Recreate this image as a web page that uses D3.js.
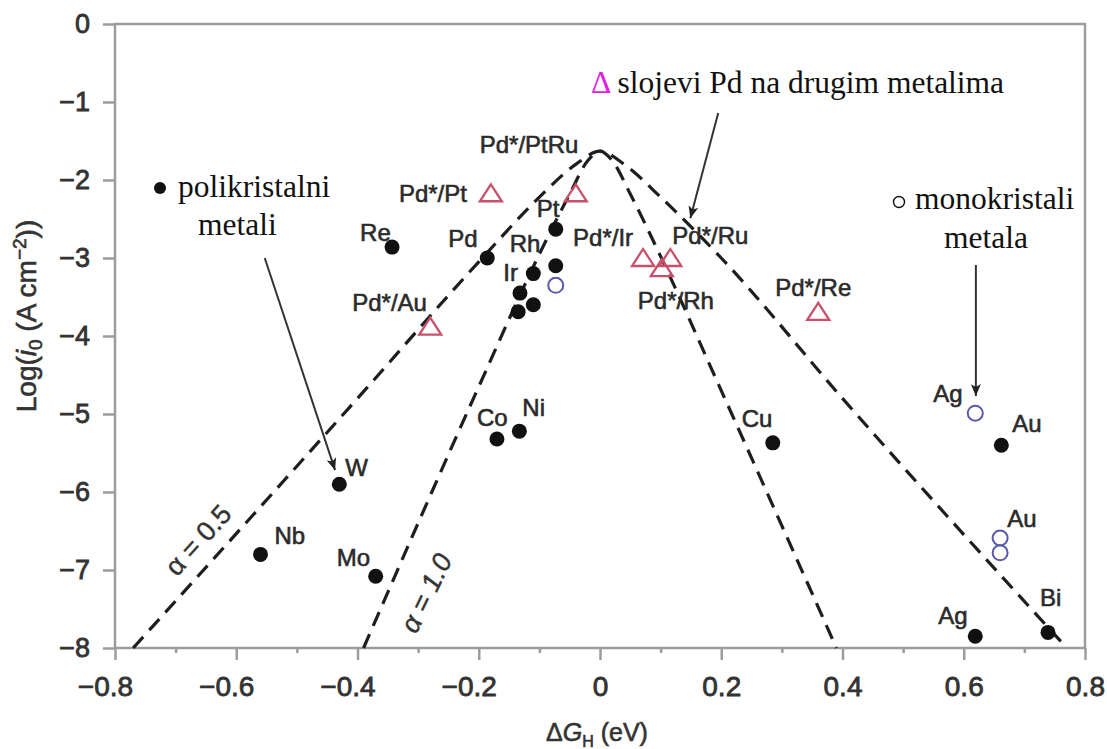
<!DOCTYPE html>
<html>
<head>
<meta charset="utf-8">
<script src="https://cdn.jsdelivr.net/npm/d3@7"></script>
<style>
  body { margin: 0; background: #fff; }
  svg { display: block; }
</style>
</head>
<body>
<div id="grafico"></div>
<script>
// ---------- DATOS ----------
// polikristalni metali (puni krugovi)
var polyNames = ['Re', 'Pd', 'Pt', 'Rh', 'Ir', '', '', '', 'Co', 'Ni', 'Cu', 'W', 'Nb', 'Mo', 'Au', 'Ag', 'Bi'];
var polyDG    = [-0.343, -0.186, -0.073, -0.073, -0.110, -0.132, -0.110, -0.135, -0.170, -0.133, 0.285, -0.430, -0.560, -0.370, 0.662, 0.619, 0.739];
var polyLogI0 = [-2.86, -3.00, -2.63, -3.10, -3.20, -3.45, -3.60, -3.69, -5.32, -5.22, -5.37, -5.90, -6.80, -7.08, -5.40, -7.85, -7.80];

// monokristali metala (prazni krugovi)
var monoNames = ['', 'Ag', 'Au', ''];
var monoDG    = [-0.073, 0.619, 0.660, 0.660];
var monoLogI0 = [-3.35, -4.99, -6.59, -6.78];

// slojevi Pd na drugim metalima (trokuti)
var pdNames = ['Pd*/Pt', 'Pd*/PtRu', 'Pd*/Au', 'Pd*/Ir', 'Pd*/Rh', 'Pd*/Ru', 'Pd*/Re'];
var pdDG    = [-0.180, -0.040, -0.280, 0.071, 0.102, 0.116, 0.360];
var pdLogI0 = [-2.17, -2.17, -3.88, -3.00, -3.13, -3.00, -3.69];

// krivulje vulkana (ocitane sa slike)
var alpha05DG = [-0.77, -0.40, -0.20, -0.10, -0.04, 0, 0.04, 0.10, 0.20, 0.40, 0.77];
var alpha05Y  = [-8.00, -4.80, -3.05, -2.22, -1.80, -1.63, -1.80, -2.22, -3.00, -4.80, -8.00];
var alpha10DG = [-0.39, -0.20, -0.10, -0.05, -0.02, 0, 0.02, 0.05, 0.10, 0.20, 0.39];
var alpha10Y  = [-8.00, -4.65, -2.95, -2.18, -1.75, -1.63, -1.75, -2.18, -2.98, -4.70, -8.00];

// osi
var xTicks = [-0.8, -0.6, -0.4, -0.2, 0, 0.2, 0.4, 0.6, 0.8];
var xMinor = [-0.7, -0.5, -0.3, -0.1, 0.1, 0.3, 0.5, 0.7];
var yTicks = [0, -1, -2, -3, -4, -5, -6, -7, -8];

// ---------- RASPORED NATPISA (px pomaci od tocke) ----------
var polyLabelOff = [[-32, -6], [-39, -11], [-19, -12], [-46, -14], [-30, 7], [0, 0], [0, 0], [0, 0],
                    [-20, -13], [3, -15], [-31, -16], [6, -8], [14, -10], [-39, -10], [11, -13], [-37, -12], [-8, -26]];
var monoLabelOff = [[0, 0], [-42, -11], [7, -11], [0, 0]];
var pdLabelOff   = [[-92, 9], [-96, -40], [-78, -16], [-70, -12], [-24, 41], [2, -14], [-43, -16]];

var W = 1107, H = 749;
var sans = '"Liberation Sans", Arial, Helvetica, sans-serif';
var serif = '"Liberation Serif", "Times New Roman", serif';

var svg = d3.select('#grafico').append('svg')
    .attr('width', W)
    .attr('height', H);

svg.append('rect').attr('width', W).attr('height', H).attr('fill', '#fff');

// ---------ESCALAS------------
var x = d3.scaleLinear().domain([-0.8, 0.8]).range([115, 1085]);
var y = d3.scaleLinear().domain([-8, 0]).range([648, 24]);

var axisColor = '#9c9c9c';

// okvir
svg.append('rect')
    .attr('x', x(-0.8)).attr('y', y(0))
    .attr('width', x(0.8) - x(-0.8)).attr('height', y(-8) - y(0))
    .attr('fill', 'none')
    .attr('stroke', axisColor)
    .attr('stroke-width', 2.5);

// EJE Y
var gy = svg.append('g')
    .attr('transform', 'translate(' + x(-0.8) + ',0)')
    .call(d3.axisLeft(y).tickValues(yTicks).tickSize(12).tickPadding(13));
gy.select('.domain').remove();
gy.selectAll('.tick line').attr('stroke', axisColor).attr('stroke-width', 2.5);
gy.selectAll('.tick text')
    .attr('font-family', sans).attr('font-size', 27)
    .attr('fill', '#333').attr('stroke', '#333').attr('stroke-width', 0.8);

// EJE X
var fmt = function (d) { return d === 0 ? '0' : d3.format('.1f')(d); };
var gx = svg.append('g')
    .attr('transform', 'translate(0,' + y(-8) + ')')
    .call(d3.axisBottom(x).tickValues(xTicks).tickFormat(fmt).tickSize(12).tickPadding(16));
gx.select('.domain').remove();
gx.selectAll('.tick line').attr('stroke', axisColor).attr('stroke-width', 2.5);
gx.selectAll('.tick text')
    .attr('font-family', sans).attr('font-size', 28)
    .attr('fill', '#333').attr('stroke', '#333').attr('stroke-width', 0.8)
    .attr('dx', function (d) { return d < 0 ? -10 : 0; });

var gm = svg.append('g')
    .attr('transform', 'translate(0,' + y(-8) + ')')
    .call(d3.axisBottom(x).tickValues(xMinor).tickFormat('').tickSize(5));
gm.select('.domain').remove();
gm.selectAll('.tick line').attr('stroke', axisColor).attr('stroke-width', 2.5);

// titulos de ejes
var yt = svg.append('text')
    .attr('transform', 'translate(36,316) rotate(-90)')
    .attr('text-anchor', 'middle')
    .attr('font-family', sans).attr('font-size', 28)
    .attr('fill', '#333').attr('stroke', '#333').attr('stroke-width', 0.6);
yt.append('tspan').text('Log(');
yt.append('tspan').attr('font-style', 'italic').text('i');
yt.append('tspan').attr('font-size', 19).attr('dy', 6).text('0');
yt.append('tspan').attr('dy', -6).text(' (A cm');
yt.append('tspan').attr('font-size', 19).attr('dy', -10).text('\u22122');
yt.append('tspan').attr('dy', 10).text('))');

var xt = svg.append('text')
    .attr('x', 597).attr('y', 741)
    .attr('text-anchor', 'middle')
    .attr('font-family', sans).attr('font-size', 25)
    .attr('fill', '#333').attr('stroke', '#333').attr('stroke-width', 0.6);
xt.append('tspan').text('\u0394');
xt.append('tspan').attr('font-style', 'italic').text('G');
xt.append('tspan').attr('font-size', 16).attr('dy', 6).text('H');
xt.append('tspan').attr('dy', -6).text(' (eV)');

// -------Lineas de vulkan------
var line = d3.line()
    .x(function (d) { return x(d[0]); })
    .y(function (d) { return y(d[1]); })
    .curve(d3.curveMonotoneX);

[[alpha05DG, alpha05Y], [alpha10DG, alpha10Y]].forEach(function (c) {
    svg.append('path')
        .attr('d', line(d3.zip(c[0], c[1])))
        .attr('fill', 'none')
        .attr('stroke', '#1e1e1e')
        .attr('stroke-width', 3.2)
        .attr('stroke-dasharray', '15,9');
});

// natpisi alfa
svg.append('text')
    .attr('transform', 'translate(198,540) rotate(-48)')
    .attr('text-anchor', 'middle').attr('dy', '0.35em')
    .attr('font-family', sans).attr('font-size', 27)
    .attr('fill', '#333').attr('stroke', '#333').attr('stroke-width', 0.4)
    .text('\u03b1 = 0.5');
svg.append('text')
    .attr('transform', 'translate(426,593) rotate(-64)')
    .attr('text-anchor', 'middle').attr('dy', '0.35em')
    .attr('font-family', sans).attr('font-size', 27).attr('font-style', 'italic')
    .attr('fill', '#333').attr('stroke', '#333').attr('stroke-width', 0.4)
    .text('\u03b1 = 1.0');

// ---------TOCKE----------
function labels(names, dg, li, off) {
    svg.append('g').selectAll('text')
        .data(names.map(function (n, i) { return [n, dg[i], li[i], off[i]]; }).filter(function (d) { return d[0] !== ''; }))
        .enter().append('text')
        .attr('x', function (d) { return x(d[1]) + d[3][0]; })
        .attr('y', function (d) { return y(d[2]) + d[3][1]; })
        .attr('font-family', sans).attr('font-size', 24)
        .attr('fill', '#2b2b2b').attr('stroke', '#2b2b2b').attr('stroke-width', 0.6)
        .text(function (d) { return d[0]; });
}

svg.append('g').selectAll('circle')
    .data(d3.zip(polyDG, polyLogI0))
    .enter().append('circle')
    .attr('cx', function (d) { return x(d[0]); })
    .attr('cy', function (d) { return y(d[1]); })
    .attr('r', 7.5)
    .attr('fill', '#111');

svg.append('g').selectAll('circle')
    .data(d3.zip(monoDG, monoLogI0))
    .enter().append('circle')
    .attr('cx', function (d) { return x(d[0]); })
    .attr('cy', function (d) { return y(d[1]); })
    .attr('r', 7.5)
    .attr('fill', 'none')
    .attr('stroke', '#5a5aab')
    .attr('stroke-width', 2);

svg.append('g').selectAll('path')
    .data(d3.zip(pdDG, pdLogI0))
    .enter().append('path')
    .attr('transform', function (d) { return 'translate(' + x(d[0]) + ',' + y(d[1]) + ')'; })
    .attr('d', 'M0,-9L11,8L-11,8Z')
    .attr('fill', 'none')
    .attr('stroke', '#c8506a')
    .attr('stroke-width', 2.3)
    .attr('stroke-linejoin', 'miter');

labels(polyNames, polyDG, polyLogI0, polyLabelOff);
labels(monoNames, monoDG, monoLogI0, monoLabelOff);
labels(pdNames, pdDG, pdLogI0, pdLabelOff);

// ---------ANOTACIJE----------
svg.append('defs').append('marker')
    .attr('id', 'strelica')
    .attr('viewBox', '0 0 12 10')
    .attr('refX', 12).attr('refY', 5)
    .attr('markerWidth', 12).attr('markerHeight', 10)
    .attr('markerUnits', 'userSpaceOnUse')
    .attr('orient', 'auto')
    .append('path')
    .attr('d', 'M0,0L12,5L0,10L3,5Z')
    .attr('fill', '#222');

var arrows = [[-0.553, -3.00, -0.437, -5.72], [0.195, -1.14, 0.149, -2.49], [0.620, -3.09, 0.620, -4.77]];
svg.append('g').selectAll('line')
    .data(arrows)
    .enter().append('line')
    .attr('x1', function (d) { return x(d[0]); })
    .attr('y1', function (d) { return y(d[1]); })
    .attr('x2', function (d) { return x(d[2]); })
    .attr('y2', function (d) { return y(d[3]); })
    .attr('stroke', '#333')
    .attr('stroke-width', 2)
    .attr('marker-end', 'url(#strelica)');

var note = svg.append('g')
    .attr('font-family', serif).attr('font-size', 31.5).attr('fill', '#111');

// polikristalni
note.append('circle').attr('cx', 160).attr('cy', 188).attr('r', 6).attr('fill', '#111');
note.append('text').attr('x', 178).attr('y', 197).text('polikristalni');
note.append('text').attr('x', 198).attr('y', 235).text('metali');

// slojevi Pd
var sl = note.append('text').attr('x', 591).attr('y', 93);
sl.append('tspan').attr('fill', '#e020e0').text('\u0394');
sl.append('tspan').text(' slojevi Pd na drugim metalima');

// monokristali
note.append('circle').attr('cx', 899).attr('cy', 202).attr('r', 5.5)
    .attr('fill', 'none').attr('stroke', '#111').attr('stroke-width', 1.4);
note.append('text').attr('x', 915).attr('y', 209).text('monokristali');
note.append('text').attr('x', 944).attr('y', 248).text('metala');
</script>
</body>
</html>
